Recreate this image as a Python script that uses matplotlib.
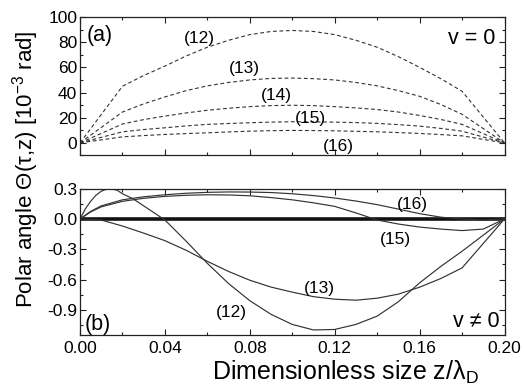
import matplotlib
matplotlib.use("Agg")
import matplotlib.pyplot as plt
from matplotlib.ticker import MultipleLocator

plt.rcParams['font.family'] = ['Liberation Sans', 'DejaVu Sans']
plt.rcParams['mathtext.fontset'] = 'custom'
plt.rcParams['mathtext.rm'] = 'Liberation Sans'

# ---- data: panel (a), v = 0 (units 1e-3 rad) ----
x_a = [0.0, 0.02, 0.03, 0.04, 0.05, 0.06, 0.07, 0.08, 0.09, 0.10,
       0.11, 0.12, 0.13, 0.14, 0.15, 0.16, 0.17, 0.18, 0.20]
a12 = [0, 45, 53.5, 61, 69, 76, 81.5, 86, 88.5, 89.3, 88.5, 86, 81.5, 76, 68.5, 60, 51, 41, 0]
a13 = [0, 24.5, 31, 36.5, 41.5, 45.3, 48, 50, 51.2, 51.5, 51, 50, 48, 45.3, 41.5, 37, 30.5, 22.7, 0]
a14 = [0, 15, 18.5, 21.3, 23.8, 25.9, 27.5, 28.8, 29.6, 29.9, 29.6, 28.8, 27.8, 26.5, 24.5, 21.8, 18.6, 14.7, 0]
a15 = [0, 8.8, 10.6, 12, 13.5, 14.7, 15.4, 16, 16.5, 16.8, 16.7, 16.5, 16.1, 15.5, 14.5, 13.3, 11.5, 9.3, 0]
a16 = [0, 4.8, 5.8, 6.7, 7.4, 8, 8.7, 9.3, 9.7, 9.9, 9.8, 9.6, 9.2, 8.8, 8.2, 7.5, 6.6, 5.6, 0]

# ---- data: panel (b), v != 0 ----
x_b12 = [0.0, 0.0025, 0.005, 0.0075, 0.01, 0.0125, 0.015, 0.0175, 0.02, 0.025, 0.03,
         0.04, 0.05, 0.06, 0.07, 0.08, 0.09, 0.10, 0.11, 0.12, 0.13, 0.14, 0.15,
         0.16, 0.17, 0.18, 0.20]
b12 = [0, 0.10, 0.175, 0.235, 0.275, 0.295, 0.297, 0.285, 0.25, 0.20, 0.13,
       -0.01, -0.22, -0.44, -0.64, -0.81, -0.945, -1.045, -1.10, -1.095, -1.045,
       -0.963, -0.82, -0.633, -0.47, -0.32, 0]
x_b13 = [0.0, 0.01, 0.02, 0.03, 0.04, 0.05, 0.06, 0.07, 0.08, 0.09, 0.10,
         0.11, 0.12, 0.13, 0.14, 0.15, 0.16, 0.17, 0.18, 0.20]
b13 = [0, -0.01, -0.07, -0.14, -0.215, -0.31, -0.42, -0.52, -0.607, -0.675, -0.725,
       -0.77, -0.795, -0.805, -0.785, -0.745, -0.676, -0.59, -0.485, 0]
x_b14 = [0.0, 0.20]
b14 = [0, 0]
x_b1516 = [0.0, 0.005, 0.01, 0.02, 0.03, 0.04, 0.05, 0.06, 0.07, 0.08, 0.09, 0.10,
           0.11, 0.12, 0.13, 0.14, 0.15, 0.16, 0.17, 0.18, 0.19, 0.20]
b15 = [0, 0.07, 0.12, 0.175, 0.205, 0.224, 0.235, 0.24, 0.238, 0.23, 0.212, 0.19,
       0.16, 0.125, 0.06, -0.01, -0.05, -0.08, -0.10, -0.115, -0.10, 0]
b16 = [0, 0.075, 0.13, 0.19, 0.22, 0.24, 0.255, 0.264, 0.268, 0.267, 0.262, 0.25,
       0.232, 0.208, 0.178, 0.142, 0.098, 0.053, 0.018, 0.0, -0.01, 0]

labels = ["(12)", "(13)", "(14)", "(15)", "(16)"]

fig = plt.figure(figsize=(5.24, 3.86), dpi=100)
ax1 = fig.add_axes([0.1527, 0.5972, 0.8101, 0.3588])
ax2 = fig.add_axes([0.1527, 0.1321, 0.8101, 0.3790])

lc = '#333333'
dash = (0, (3.4, 2.4))
for y in (a12, a13, a14, a15, a16):
    ax1.plot(x_a, y, color=lc, lw=0.8, linestyle=dash)

ax2.plot(x_b14, b14, color='#111111', lw=2.6, solid_capstyle='butt')
for xs, y in ((x_b12, b12), (x_b13, b13), (x_b1516, b15), (x_b1516, b16)):
    ax2.plot(xs, y, color=lc, lw=0.85)

ax1.set_xlim(0, 0.2)
ax1.set_ylim(-10, 100)
ax2.set_xlim(0, 0.2)
ax2.set_ylim(-1.15, 0.3)

ax1.yaxis.set_major_locator(MultipleLocator(20))
ax1.yaxis.set_minor_locator(MultipleLocator(10))
ax2.yaxis.set_major_locator(MultipleLocator(0.3))
ax2.yaxis.set_minor_locator(MultipleLocator(0.15))
for ax in (ax1, ax2):
    ax.xaxis.set_major_locator(MultipleLocator(0.04))
    ax.xaxis.set_minor_locator(MultipleLocator(0.02))
    ax.tick_params(which='both', direction='in', top=True, right=True,
                   labelsize=12.5, width=0.8, color='#222222')
    ax.tick_params(which='major', length=4.5)
    ax.tick_params(which='minor', length=2.5)
    ax.tick_params(axis='y', pad=2)
    ax.tick_params(axis='x', pad=4)
    for s in ax.spines.values():
        s.set_linewidth(0.9)
        s.set_color('#222222')
ax1.tick_params(labelbottom=False)
ax2.xaxis.set_major_formatter(plt.FuncFormatter(lambda v, p: f"{v:.2f}"))
ax2.yaxis.set_major_formatter(plt.FuncFormatter(lambda v, p: f"{v:.1f}".replace("-0.0", "0.0")))

fs_c = 12.5
pos_a = [(0.2815, 0.846), (0.388, 0.630), (0.4624, 0.430), (0.543, 0.2635), (0.608, 0.0635)]
for lab, (px, py) in zip(labels, pos_a):
    ax1.text(px, py, lab, transform=ax1.transAxes, ha='center', va='center', fontsize=fs_c)
ax1.text(0.0464, 0.863, "(a)", transform=ax1.transAxes, ha='center', va='center', fontsize=15.5)
ax1.text(0.9227, 0.845, "v = 0", transform=ax1.transAxes, ha='center', va='center', fontsize=15.5)

pos_b = {"(16)": (0.782, 0.895), "(15)": (0.742, 0.656), "(13)": (0.565, 0.321), "(12)": (0.356, 0.157)}
for lab, (px, py) in pos_b.items():
    ax2.text(px, py, lab, transform=ax2.transAxes, ha='center', va='center', fontsize=fs_c)
ax2.text(0.0424, 0.075, "(b)", transform=ax2.transAxes, ha='center', va='center', fontsize=15.5)
ax2.text(0.9329, 0.089, "v \u2260 0", transform=ax2.transAxes, ha='center', va='center', fontsize=15.5)

fig.text(0.048, 0.562, "Polar angle \u0398(\u03c4,z) [10$^{\\mathregular{-3}}$ rad]",
         rotation=90, ha='center', va='center', fontsize=16)
fig.text(0.4046, 0.0155, "Dimensionless size z/\u03bb$_{\\mathregular{D}}$",
         ha='left', va='baseline', fontsize=18)

fig.savefig("out.png", dpi=100)
